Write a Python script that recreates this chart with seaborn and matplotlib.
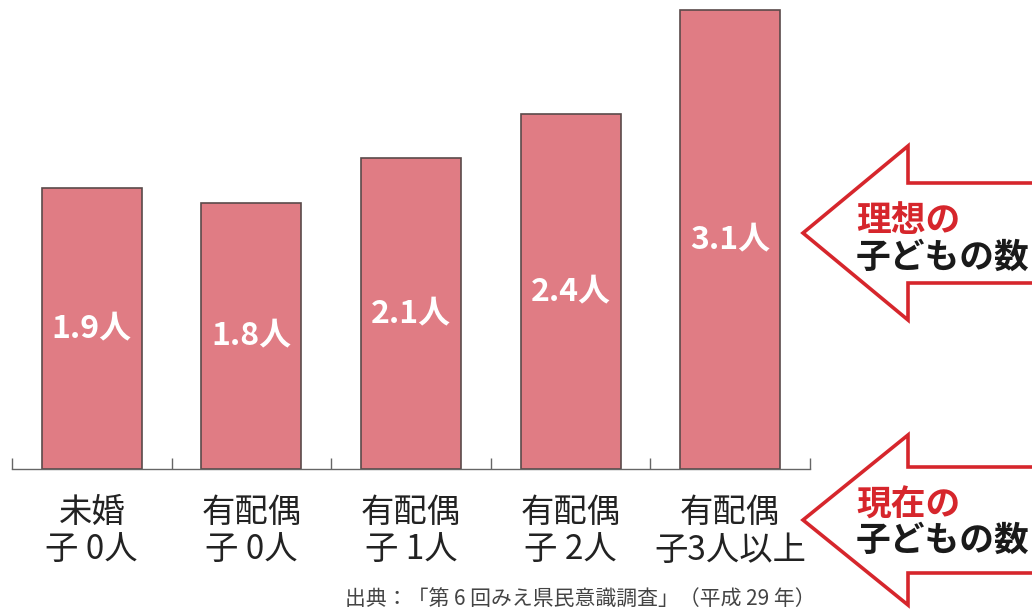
import numpy as np
import seaborn as sns
import matplotlib.pyplot as plt
from matplotlib.patches import Polygon

# data
categories = ["未婚\n子 0人", "有配偶\n子 0人", "有配偶\n子 1人", "有配偶\n子 2人", "有配偶\n子3人以上"]
ideal_children = [1.9, 1.8, 2.1, 2.4, 3.1]
value_labels = ["1.9人", "1.8人", "2.1人", "2.4人", "3.1人"]
source_text = "出典：「第 6 回みえ県民意識調査」（平成 29 年）"

bar_color = "#e07c84"
edge_color = "#5a4a4a"
arrow_red = "#d6262c"

sns.set_theme(style="white")
plt.rcParams['font.family'] = ['Noto Sans CJK JP', 'DejaVu Sans']

W, H = 1032, 613
fig = plt.figure(figsize=(W / 100, H / 100), dpi=100)

# overlay axes in pixel coords for the arrows and notes
ov = fig.add_axes([0, 0, 1, 1])
ov.set_xlim(0, W)
ov.set_ylim(H, 0)
ov.axis("off")

ax = fig.add_axes([12 / W, (H - 469) / H, (810 - 12) / W, 469 / H])
sns.barplot(x=categories, y=ideal_children, color=bar_color, width=0.627,
            edgecolor=edge_color, linewidth=1.2, saturation=1, ax=ax)
ax.set_xlim(-0.5, 4.5)
ax.set_ylim(0, 469 / 148)
ax.patch.set_alpha(0)

for i, (v, lab) in enumerate(zip(ideal_children, value_labels)):
    ax.text(i, v / 2, lab, ha="center", va="center", color="white",
            fontsize=23, fontweight="bold")

# tick marks at category boundaries, labels at centers
ax.set_xticks(np.arange(-0.5, 5, 1))
ax.set_xticklabels([])
ax.set_xticks(np.arange(5), minor=True)
ax.set_xticklabels(categories, minor=True, fontsize=24, color="#222222",
                   linespacing=1.1)
ax.tick_params(axis="x", which="major", direction="in", length=8,
               width=1, color="#666666", bottom=True)
ax.tick_params(axis="x", which="minor", length=0, pad=19)
ax.set_yticks([])
ax.set_xlabel("")
for s in ["left", "right", "top"]:
    ax.spines[s].set_visible(False)
ax.spines["bottom"].set_color("#666666")
ax.spines["bottom"].set_linewidth(1)


def draw_arrow(tip_y, head_half, shaft_half):
    pts = [(803, tip_y), (908, tip_y - head_half), (908, tip_y - shaft_half),
           (1045, tip_y - shaft_half), (1045, tip_y + shaft_half),
           (908, tip_y + shaft_half), (908, tip_y + head_half)]
    ov.add_patch(Polygon(pts, closed=True, facecolor="white",
                         edgecolor=arrow_red, linewidth=2.6, joinstyle="miter"))


draw_arrow(233, 87, 50)
draw_arrow(520, 85, 53)

ov.text(856, 221, "理想の", color=arrow_red, fontsize=25, fontweight="bold",
        ha="left", va="center")
ov.text(856, 257, "子どもの数", color="#1a1a1a", fontsize=25, fontweight="bold",
        ha="left", va="center")
ov.text(856, 505, "現在の", color=arrow_red, fontsize=25, fontweight="bold",
        ha="left", va="center")
ov.text(856, 540, "子どもの数", color="#1a1a1a", fontsize=25, fontweight="bold",
        ha="left", va="center")

ov.text(580, 600, source_text, color="#444444", fontsize=15,
        ha="center", va="center")

fig.savefig("out.png", dpi=100)
